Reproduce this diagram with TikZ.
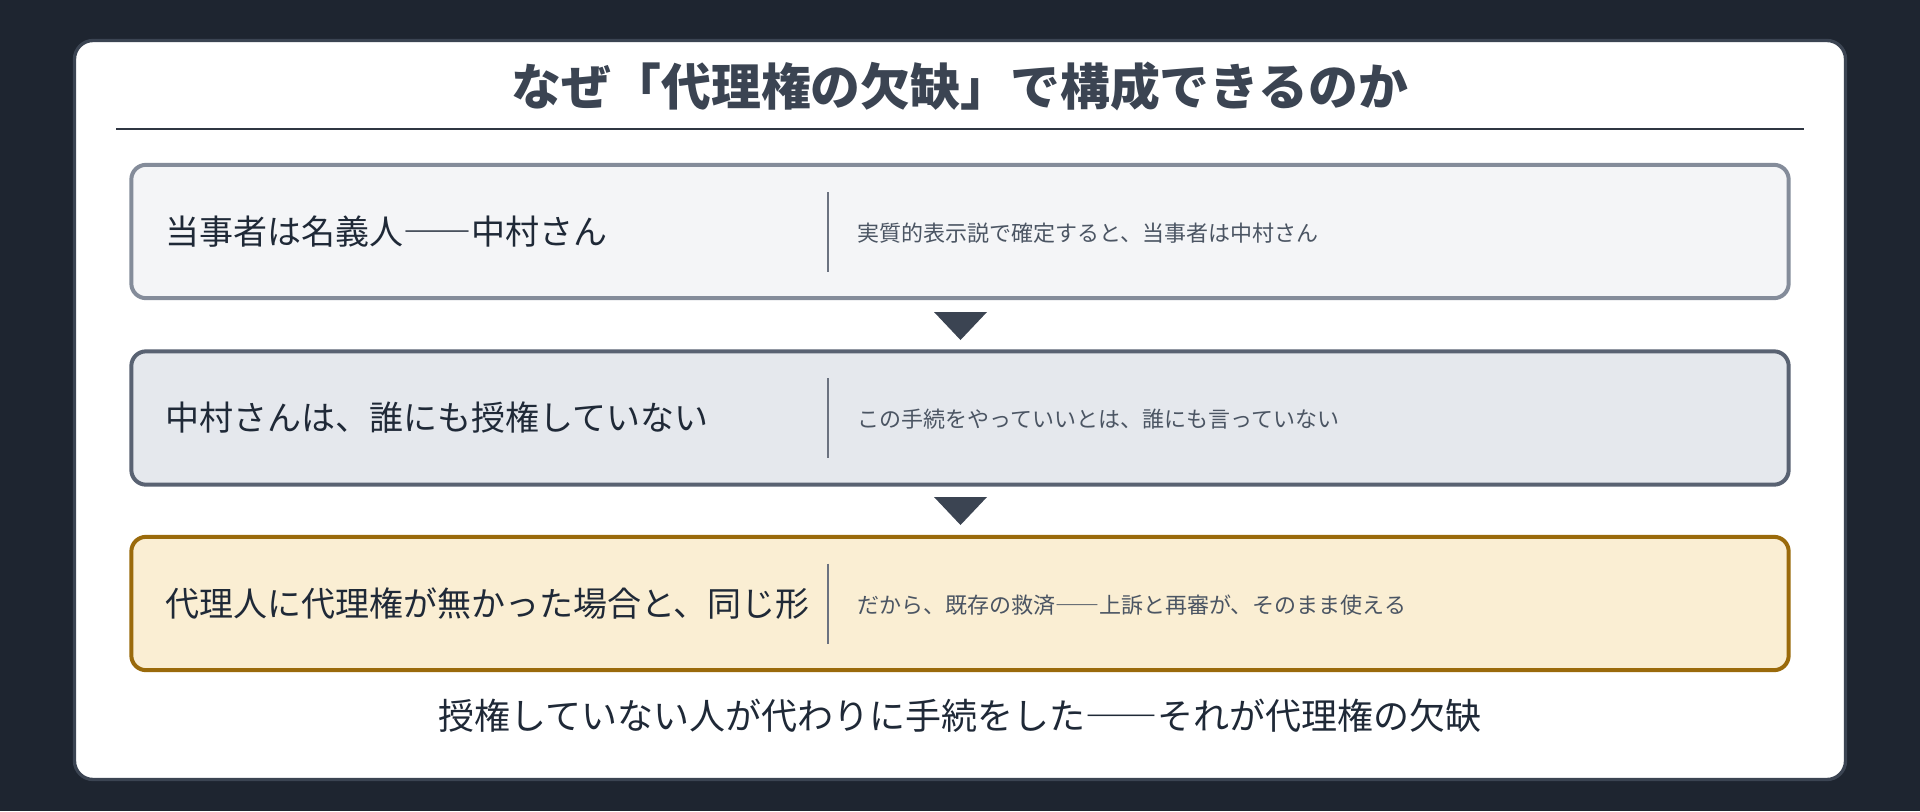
\documentclass[tikz,border=0pt]{standalone}
\usepackage{fontspec}
\setmainfont{Noto Sans CJK JP}
\newcommand{\wdash}{{\addfontfeatures{RawFeature=+fwid}——}}
\definecolor{pagebg}{HTML}{1E2530}
\definecolor{cardline}{HTML}{3B4452}
\definecolor{inkdark}{HTML}{1F2937}
\definecolor{inkgray}{HTML}{4B5563}
\definecolor{divgray}{HTML}{6B7280}
\definecolor{lineA}{HTML}{848C9A}
\definecolor{fillA}{HTML}{F4F5F7}
\definecolor{lineB}{HTML}{596272}
\definecolor{fillB}{HTML}{E5E8ED}
\definecolor{lineC}{HTML}{9A6A0B}
\definecolor{fillC}{HTML}{FAEED3}

\begin{document}
\begin{tikzpicture}[x=0.75pt,y=-0.75pt,
  stage/.style 2 args={rectangle, rounded corners=11pt, line width=3pt, draw=#1, fill=#2,
    minimum width=1243pt, minimum height=100pt, anchor=center},
  claim/.style={anchor=west, inner sep=0pt, text=inkdark, font=\fontsize{25.5pt}{28pt}\selectfont},
  note/.style={anchor=west, inner sep=0pt, text=inkgray, font=\fontsize{16.5pt}{19pt}\selectfont},
  divider/.style={draw=divgray, line width=1.5pt},
  downtri/.style={fill=cardline}]

      \fill[pagebg] (0,0) rectangle (1920,811);
      \useasboundingbox (0,0) rectangle (1920,811);
      \draw[cardline, fill=white, line width=2.5pt, rounded corners=14pt] (74.5,40.5) rectangle (1845.5,779.5);

      \node[text=cardline, font=\fontsize{37.4pt}{40pt}\selectfont\bfseries] (title) at (960,86) {なぜ「代理権の欠缺」で構成できるのか};
      \draw[cardline!80!black, line width=1.5pt] (116,129) -- (1804,129);

      \node[stage={lineA}{fillA}] (party) at (960,231.5) {};
      \node[stage={lineB}{fillB}] (noauth) at (960,418) {};
      \node[stage={lineC}{fillC}] (same) at (960,603.5) {};

      \node[claim] (partyL) at (165,231.5) {当事者は名義人\wdash 中村さん};
      \node[note] (partyR) at (857,233) {実質的表示説で確定すると、当事者は中村さん};
      \draw[divider] (828,192) -- (828,272);

      \node[claim] (noauthL) at (165,418) {中村さんは、誰にも授権していない};
      \node[note] (noauthR) at (857,419.5) {この手続をやっていいとは、誰にも言っていない};
      \draw[divider] (828,378) -- (828,458);

      \node[claim] (sameL) at (165,603.5) {代理人に代理権が無かった場合と、同じ形};
      \node[note] (sameR) at (857,605) {だから、既存の救済\wdash 上訴と再審が、そのまま使える};
      \draw[divider] (828,563.5) -- (828,643.5);

      \fill[downtri] (934,312) -- (987,312) -- (960.5,340) -- cycle;
      \fill[downtri] (934,497) -- (987,497) -- (960.5,525) -- cycle;

      \node[text=inkdark, font=\fontsize{27pt}{30pt}\selectfont] (moral) at (960,716) {授権していない人が代わりに手続をした\wdash それが代理権の欠缺};

    \end{tikzpicture}
\end{document}
